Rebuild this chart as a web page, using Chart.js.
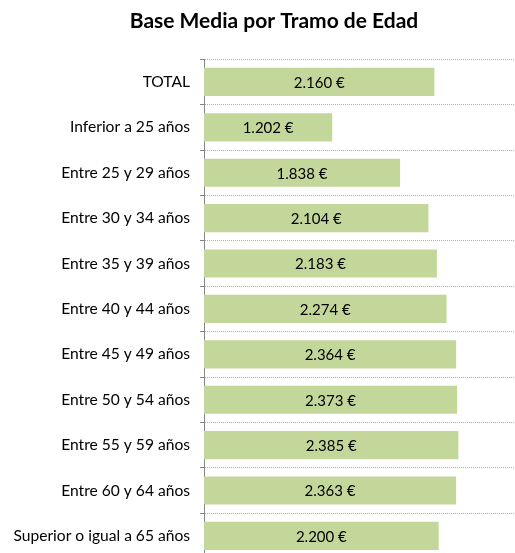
<!DOCTYPE html>
<html>
<head>
<meta charset="utf-8">
<script src="https://cdn.jsdelivr.net/npm/chart.js@4"></script>
<style>
  html, body { margin: 0; padding: 0; background: #fff; overflow: hidden; }
  #wrap { width: 524px; height: 578px; position: relative; }
</style>
</head>
<body>
<div id="wrap"><canvas id="chart"></canvas></div>
<script>
const categories = [
    'TOTAL',
    'Inferior a 25 años',
    'Entre 25 y 29 años',
    'Entre 30 y 34 años',
    'Entre 35 y 39 años',
    'Entre 40 y 44 años',
    'Entre 45 y 49 años',
    'Entre 50 y 54 años',
    'Entre 55 y 59 años',
    'Entre 60 y 64 años',
    'Superior o igual a 65 años'
];
const baseMedia = [2160, 1202, 1838, 2104, 2183, 2274, 2364, 2373, 2385, 2363, 2200];

const fontFamily = 'Lato, "Open Sans", sans-serif';

function euro(v) {
    const s = String(Math.round(v));
    return s.replace(/\B(?=(\d{3})+(?!\d))/g, '.') + ' €';
}

// draws the value in the middle of each bar
const barLabels = {
    id: 'barLabels',
    afterDatasetsDraw(chart) {
        const ctx = chart.ctx;
        const meta = chart.getDatasetMeta(0);
        ctx.save();
        ctx.font = '15px ' + fontFamily;
        ctx.fillStyle = '#000';
        ctx.textAlign = 'center';
        ctx.textBaseline = 'middle';
        meta.data.forEach((bar, i) => {
            ctx.fillText(euro(baseMedia[i]), (bar.x + bar.base) / 2, bar.y + 1);
        });
        ctx.restore();
    }
};

// title in the original sits a little right of the canvas centre
const shiftTitle = {
    id: 'shiftTitle',
    afterLayout(chart) {
        if (chart.titleBlock) chart.titleBlock.left += 24;
    }
};

new Chart(document.getElementById('chart'), {
    type: 'bar',
    data: {
        labels: categories,
        datasets: [{
            label: 'Base Media',
            data: baseMedia,
            backgroundColor: '#c4d79b',
            borderWidth: 0,
            categoryPercentage: 1,
            barPercentage: 0.62
        }]
    },
    options: {
        indexAxis: 'y',
        responsive: true,
        maintainAspectRatio: false,
        animation: false,
        layout: { padding: 0 },
        plugins: {
            legend: { display: false },
            tooltip: { enabled: false },
            title: {
                display: true,
                text: 'Base Media por Tramo de Edad',
                color: '#000',
                font: { family: fontFamily, size: 21, weight: 'bold' },
                padding: { top: 9, bottom: 25 }
            }
        },
        scales: {
            x: {
                display: false,
                min: 0,
                max: 3000
            },
            y: {
                afterFit(scale) { scale.width = 204; },
                grid: {
                    offset: true,
                    color: '#c2ab7e',
                    tickColor: '#868686',
                    tickLength: 4
                },
                border: {
                    display: true,
                    color: '#868686',
                    width: 1,
                    dash: [1, 1]
                },
                ticks: {
                    color: '#000',
                    padding: 10,
                    font: { family: fontFamily, size: 15.6 }
                }
            }
        }
    },
    plugins: [barLabels, shiftTitle]
});
</script>
</body>
</html>
